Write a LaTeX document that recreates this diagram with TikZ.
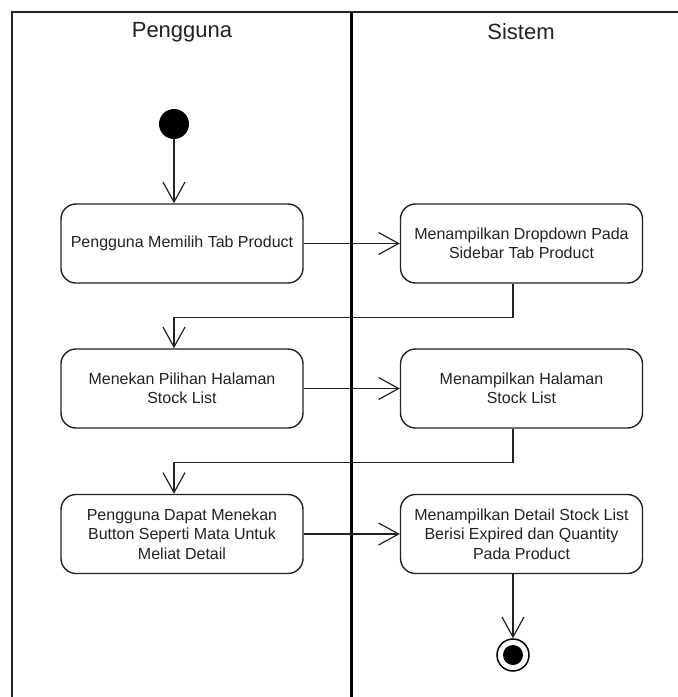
\documentclass[tikz,border=0pt]{standalone}
\usepackage{fontspec}
\setmainfont{Liberation Sans}
\usetikzlibrary{arrows.meta}
\definecolor{ink}{HTML}{222222}
\begin{document}
\begin{tikzpicture}[x=1pt,y=-1pt,
  every node/.style={text=ink},
  lane/.style={draw=ink,line width=2pt},
  divider/.style={draw=black,line width=3pt},
  lanetitle/.style={font=\fontsize{22}{26}\selectfont},
  action/.style={draw=ink,line width=1.4pt,rounded corners=15pt,
    minimum width=242pt,minimum height=79pt,inner sep=2pt,align=center,
    font=\fontsize{16}{19.5}\selectfont},
  flow/.style={draw=ink,line width=1.2pt,
    -{Straight Barb[length=20pt,width=22pt,line width=1.2pt]}},
  initial/.style={circle,fill=black,minimum size=30pt,inner sep=0pt},
  final/.style={circle,draw=black,line width=1.5pt,minimum size=32pt,inner sep=0pt,
    path picture={\fill[black] (path picture bounding box.center) circle (10pt);}}
]
\useasboundingbox (0,0) rectangle (678,697);

% swimlane frame
\draw[lane] (12,697) -- (12,12) -- (679,12);
\draw[divider] (351,12) -- (351,698);
\node[lanetitle] (t1) at (182,32) {Pengguna};
\node[lanetitle] (t2) at (521,32) {Sistem};

% start and end
\node[initial] (start) at (174,124) {};
\node[final] (fin) at (513,655) {};

% actions, user lane
\node[action] (a1) at (182,243.5) {Pengguna Memilih Tab Product};
\node[action] (a3) at (182,388.5) {Menekan Pilihan Halaman\\Stock List};
\node[action] (a5) at (182,534) {Pengguna Dapat Menekan\\Button Seperti Mata Untuk\\Meliat Detail};

% actions, system lane
\node[action] (a2) at (521.5,243.5) {Menampilkan Dropdown Pada\\Sidebar Tab Product};
\node[action] (a4) at (521.5,388.5) {Menampilkan Halaman\\Stock List};
\node[action] (a6) at (521.5,534) {Menampilkan Detail Stock List\\Berisi Expired dan Quantity\\Pada Product};

% control flow
\draw[flow] (start) -- (start |- a1.north);
\draw[flow] (a1) -- (a2);
\draw[flow] (a2.south -| fin) -- ++(0,34) -| (a3.north -| start);
\draw[flow] (a3) -- (a4);
\draw[flow] (a4.south -| fin) -- ++(0,34) -| (a5.north -| start);
\draw[flow] (a5) -- (a6);
\draw[flow] (a6.south -| fin) -- (fin);
\end{tikzpicture}
\end{document}
